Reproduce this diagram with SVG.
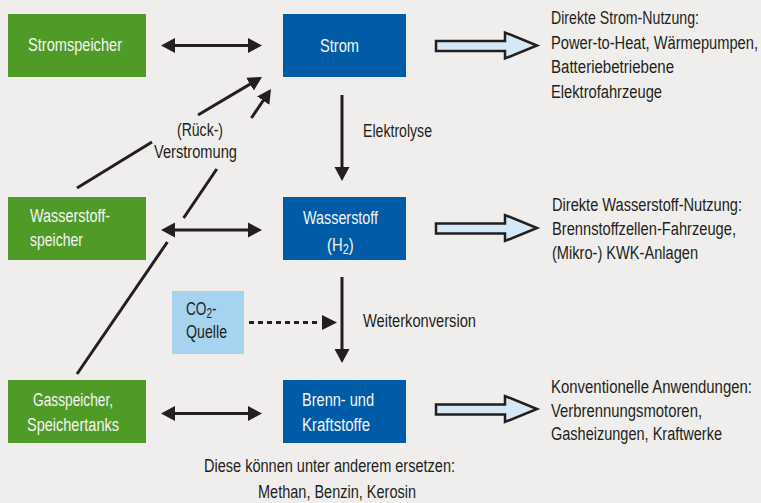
<svg xmlns="http://www.w3.org/2000/svg" width="761" height="503" viewBox="0 0 761 503">
<defs>
<style>
text{font-family:"Liberation Sans",Arial,sans-serif;font-size:19px;fill:#231f20}
.w{fill:#f4f4f4}
.green{fill:#509b27}
.blue{fill:#005ca6}
.co2{fill:#a6d4f0}
.ln{stroke:#231f20;stroke-width:3;fill:none}
.blk{fill:#d6e7f6;stroke:#231f20;stroke-width:2.5;stroke-linejoin:miter}
.hd{fill:#231f20}
</style>
<marker id="ah" markerUnits="userSpaceOnUse" viewBox="0 -8 14 16" markerWidth="14" markerHeight="16" refX="4" refY="0" orient="auto-start-reverse">
<path d="M0,-7.5 L14,0 L0,7.5 z" fill="#231f20"/>
</marker>
</defs>
<rect width="761" height="503" fill="#efeeec"/>

<g id="connectors">
<line class="ln" x1="171" y1="45.5" x2="252" y2="45.5" marker-start="url(#ah)" marker-end="url(#ah)"/>
<line class="ln" x1="171" y1="230" x2="252" y2="230" marker-start="url(#ah)" marker-end="url(#ah)"/>
<line class="ln" x1="171" y1="413.5" x2="252" y2="413.5" marker-start="url(#ah)" marker-end="url(#ah)"/>
<line class="ln" x1="342" y1="95" x2="342" y2="171" marker-end="url(#ah)"/>
<line class="ln" x1="342" y1="277" x2="342" y2="353" marker-end="url(#ah)"/>
<line class="ln" x1="77" y1="188" x2="152" y2="142"/>
<line class="ln" x1="198" y1="115" x2="253.4" y2="82.1" marker-end="url(#ah)"/>
<line class="ln" x1="77" y1="374" x2="167.4" y2="242"/>
<line class="ln" x1="183.6" y1="218" x2="216.8" y2="169"/>
<line class="ln" x1="251.4" y1="118" x2="265.4" y2="97.3" marker-end="url(#ah)"/>
<line class="ln" x1="249" y1="322.5" x2="321" y2="322.5" stroke-dasharray="5 4"/>
<polygon class="hd" points="322,315 337,322.5 322,330"/>
<polygon class="blk" points="436,41 505,41 505,32.5 537,45.5 505,58.5 505,51 436,51"/>
<polygon class="blk" points="436,223.5 505,223.5 505,215 537,228 505,241 505,233.5 436,233.5"/>
<polygon class="blk" points="436,404.5 505,404.5 505,396 537,409 505,422 505,414.5 436,414.5"/>
<text transform="translate(363,137) scale(0.78,1)" textLength="88.5" lengthAdjust="spacingAndGlyphs">Elektrolyse</text>
<text transform="translate(363,327) scale(0.78,1)" textLength="144.9" lengthAdjust="spacingAndGlyphs">Weiterkonversion</text>
<text transform="translate(177,136) scale(0.78,1)" textLength="59" lengthAdjust="spacingAndGlyphs">(Rück-)</text>
<text transform="translate(154,158) scale(0.78,1)" textLength="106.4" lengthAdjust="spacingAndGlyphs">Verstromung</text>
</g>

<g id="stromspeicher">
<rect class="green" x="8" y="14" width="138" height="63"/>
<text class="w" transform="translate(28,51) scale(0.78,1)" textLength="120.5" lengthAdjust="spacingAndGlyphs">Stromspeicher</text>
</g>
<g id="strom">
<rect class="blue" x="283" y="14" width="123" height="63"/>
<text class="w" transform="translate(320,52) scale(0.78,1)" textLength="50" lengthAdjust="spacingAndGlyphs">Strom</text>
</g>
<g id="strom-nutzung">
<text transform="translate(551,24) scale(0.78,1)" textLength="189.7" lengthAdjust="spacingAndGlyphs">Direkte Strom-Nutzung:</text>
<text transform="translate(551,48.5) scale(0.78,1)" textLength="265.4" lengthAdjust="spacingAndGlyphs">Power-to-Heat, Wärmepumpen,</text>
<text transform="translate(551,73) scale(0.78,1)" textLength="157.7" lengthAdjust="spacingAndGlyphs">Batteriebetriebene</text>
<text transform="translate(551,97.5) scale(0.78,1)" textLength="142.3" lengthAdjust="spacingAndGlyphs">Elektrofahrzeuge</text>
</g>

<g id="wasserstoffspeicher">
<rect class="green" x="8" y="197" width="138" height="63"/>
<text class="w" transform="translate(30,222) scale(0.78,1)" textLength="102.6" lengthAdjust="spacingAndGlyphs">Wasserstoff-</text>
<text class="w" transform="translate(30,246) scale(0.78,1)" textLength="67.9" lengthAdjust="spacingAndGlyphs">speicher</text>
</g>
<g id="wasserstoff">
<rect class="blue" x="283" y="197" width="123" height="63"/>
<text class="w" transform="translate(303,224) scale(0.78,1)" textLength="96.2" lengthAdjust="spacingAndGlyphs">Wasserstoff</text>
<text class="w" transform="translate(327,251) scale(0.78,1)">(H<tspan font-size="14" dy="3">2</tspan><tspan dy="-3">)</tspan></text>
</g>
<g id="wasserstoff-nutzung">
<text transform="translate(552,211) scale(0.78,1)" textLength="243.6" lengthAdjust="spacingAndGlyphs">Direkte Wasserstoff-Nutzung:</text>
<text transform="translate(552,235) scale(0.78,1)" textLength="235.9" lengthAdjust="spacingAndGlyphs">Brennstoffzellen-Fahrzeuge,</text>
<text transform="translate(552,259) scale(0.78,1)" textLength="187.2" lengthAdjust="spacingAndGlyphs">(Mikro-) KWK-Anlagen</text>
</g>

<g id="co2-quelle">
<rect class="co2" x="172" y="291" width="72" height="63"/>
<text transform="translate(186,315) scale(0.72,1)">CO<tspan font-size="14" dy="3">2</tspan><tspan dy="-3">-</tspan></text>
<text transform="translate(186,338) scale(0.78,1)" textLength="52.6" lengthAdjust="spacingAndGlyphs">Quelle</text>
</g>

<g id="gasspeicher">
<rect class="green" x="8" y="380" width="138" height="63"/>
<text class="w" transform="translate(33,406) scale(0.78,1)" textLength="102.6" lengthAdjust="spacingAndGlyphs">Gasspeicher,</text>
<text class="w" transform="translate(27,431) scale(0.78,1)" textLength="117.9" lengthAdjust="spacingAndGlyphs">Speichertanks</text>
</g>
<g id="brennstoffe">
<rect class="blue" x="283" y="380" width="123" height="63"/>
<text class="w" transform="translate(302,406) scale(0.78,1)" textLength="92.3" lengthAdjust="spacingAndGlyphs">Brenn- und</text>
<text class="w" transform="translate(302,431) scale(0.78,1)" textLength="87.2" lengthAdjust="spacingAndGlyphs">Kraftstoffe</text>
</g>
<g id="konventionell">
<text transform="translate(551,393) scale(0.78,1)" textLength="257.7" lengthAdjust="spacingAndGlyphs">Konventionelle Anwendungen:</text>
<text transform="translate(551,416.5) scale(0.78,1)" textLength="193.6" lengthAdjust="spacingAndGlyphs">Verbrennungsmotoren,</text>
<text transform="translate(551,440) scale(0.78,1)" textLength="219.2" lengthAdjust="spacingAndGlyphs">Gasheizungen, Kraftwerke</text>
</g>
<g id="ersetzen">
<text transform="translate(204,472) scale(0.78,1)" textLength="321.8" lengthAdjust="spacingAndGlyphs">Diese können unter anderem ersetzen:</text>
<text transform="translate(258,498) scale(0.78,1)" textLength="202.6" lengthAdjust="spacingAndGlyphs">Methan, Benzin, Kerosin</text>
</g>
</svg>
